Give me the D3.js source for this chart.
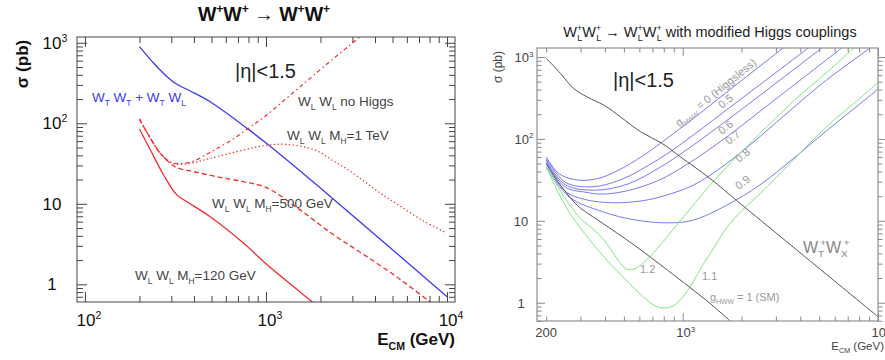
<!DOCTYPE html>
<html><head><meta charset="utf-8">
<script src="https://cdn.jsdelivr.net/npm/d3@7"></script>
<style>body{margin:0;background:#fff;} svg{display:block;font-family:"Liberation Sans",Arial,sans-serif;}</style>
</head><body><svg id="c" width="885" height="360"></svg>
<script>
// ---------- LEFT PANEL DATA (E in GeV, sigma in pb) ----------
const leftXTicks = [100, 1000, 10000];
const leftXTickExp = ["2", "3", "4"];
const leftYTicks = [1, 10, 100, 1000];
const leftYTickLabels = [["1", ""], ["10", ""], ["10", "2"], ["10", "3"]];

const wtE = [200, 240, 284, 322, 382, 492, 800, 990, 2300, 10000];
const wtS = [895, 556, 379, 305, 252, 185, 84, 58, 12, 0.70];

const mh120E = [200, 230, 272, 322, 366, 492, 750, 1000, 1790, 1900];
const mh120S = [85, 46.6, 22.8, 12.9, 10.6, 6.9, 3.25, 1.8, 0.61, 0.54];

const mh500E = [200, 230, 261, 296, 322, 398, 536, 750, 1000, 1500, 2300, 3500, 5400, 8000, 8500];
const mh500S = [113, 65, 42.4, 31.8, 28.1, 25.1, 21.7, 18.8, 16, 8.8, 4.3, 2.31, 1.19, 0.61, 0.55];

const noHiggsE = [200, 230, 261, 296, 331, 398, 492, 631, 802, 1000, 1507, 2307, 3548];
const noHiggsS = [113, 65, 42.4, 33.1, 31.6, 33.9, 43.7, 60, 87, 125, 272, 611, 1349];

const mh1TeVE = [200, 230, 261, 296, 331, 398, 492, 753, 1000, 1274, 1866, 2307, 2851, 3524, 4355, 5383, 7244, 9954];
const mh1TeVS = [113, 65, 42.4, 32.7, 30.9, 32.4, 36.7, 46.6, 53.1, 54.8, 46.6, 35.0, 26.3, 18.7, 13.2, 9.68, 6.31, 4.34];

// ---------- RIGHT PANEL DATA ----------
const rightXTicks = [200, 1000, 10000];
const rightXTickLabels = [["200", ""], ["10", "3"], ["10", "4"]];
const rightYTicks = [1, 10, 100, 1000];
const rightYTickLabels = [["1", ""], ["10", ""], ["10", "2"], ["10", "3"]];

const wtwxE = [200, 237, 277, 324, 395, 481, 610, 785, 977, 1380, 2000, 10000];
const wtwxS = [970, 628, 412, 325, 258, 185, 122, 88, 60, 32.9, 15.8, 0.675];

const smE = [200, 237, 288, 318, 380, 564, 834, 1380, 1820];
const smS = [50, 27.2, 15.5, 12.9, 9.7, 5.06, 2.51, 0.98, 0.55];

const g00E = [200, 234, 295, 372, 462, 631, 762, 1038, 1380, 1995, 3273, 3631];
const g00S = [60.3, 37.2, 31.3, 33.1, 40.7, 63.1, 87.1, 151, 257, 513, 1288, 1549];

const g05E = [200, 251, 339, 479, 762, 1038, 1585, 2512, 4395, 5012];
const g05S = [57.5, 29.5, 26.0, 31.6, 57.5, 95.5, 204, 468, 1288, 1622];

const g06E = [200, 251, 360, 525, 762, 1038, 1585, 2818, 5152, 5754];
const g06S = [55, 27.5, 23.7, 28.2, 44.7, 72.4, 151, 427, 1288, 1585];

const g07E = [200, 251, 316, 389, 525, 762, 1038, 1585, 3162, 6516, 7080];
const g07S = [52.5, 25.7, 22.4, 21.2, 23.4, 31.6, 47.9, 95.5, 339, 1288, 1514];

const g08E = [200, 251, 316, 437, 603, 762, 1132, 1679, 2489, 3681, 5458, 9099, 10000];
const g08S = [50.1, 22.9, 18.2, 16.6, 17.4, 19.5, 27.2, 50.1, 107, 240, 525, 1288, 1549];

const g09E = [200, 262, 389, 577, 854, 1132, 1679, 2489, 3681, 5458, 9462, 10000];
const g09S = [45.7, 19.6, 12.9, 10.2, 9.44, 10.2, 15.5, 27.5, 57.5, 126, 363, 407];

const g12E = [200, 229, 263, 302, 347, 392, 437, 479, 516, 562, 631, 741, 933, 1148, 1380, 1782, 2489, 3681, 5458, 7464, 8318];
const g12S = [45.7, 26.3, 15.8, 10.5, 7.94, 6.03, 4.17, 3.02, 2.57, 2.57, 3.09, 4.57, 8.91, 16.2, 27.2, 52.5, 117, 288, 646, 1259, 1549];

const g11E = [200, 229, 263, 302, 333, 398, 501, 631, 724, 802, 891, 1000, 1122, 1259, 1445, 1660, 2037, 2489, 3681, 5458, 7943, 10000];
const g11S = [45.7, 22.9, 12.6, 7.94, 5.89, 3.55, 2.0, 1.17, 0.912, 0.861, 0.912, 1.17, 1.74, 2.82, 4.68, 7.94, 13.8, 21.4, 55, 141, 302, 490];

// ---------- HELPERS ----------
const svg = d3.select("#c");
const zip = (E, S) => E.map((e, i) => [e, S[i]]);

function rich(g, x, y, parts, o = {}) {
  const size = o.size || 14;
  const t = g.append("text").attr("x", x).attr("y", y)
    .attr("font-size", size).attr("fill", o.fill || "#333")
    .attr("text-anchor", o.anchor || "start")
    .attr("font-weight", o.weight || "normal");
  if (o.rotate) t.attr("transform", `rotate(${o.rotate},${x},${y})`);
  let cur = 0;
  parts.forEach(p => {
    const [s, type, dx] = p;
    const sz = type === "n" ? size : size * 0.62;
    const off = type === "sup" ? -size * 0.42 : type === "sub" ? size * 0.28 : 0;
    const ts = t.append("tspan").attr("font-size", sz).attr("dy", off - cur).text(s);
    if (dx) ts.attr("dx", dx);
    cur = off;
  });
  return t;
}

function ticks(g, xs, ys, majX, minX, majY, minY, majLen, minLen, col, rightOut) {
  const [x0, x1] = xs.range(), [y0, y1] = ys.range();
  const mk = (axisFn, scale, vals, len, tr) => {
    g.append("g").attr("transform", tr)
      .call(axisFn(scale).tickValues(vals).tickSizeInner(len).tickSizeOuter(0).tickFormat(() => ""))
      .call(a => { a.select(".domain").remove(); a.selectAll("line").attr("stroke", col); });
  };
  mk(d3.axisBottom, xs, majX, -majLen, `translate(0,${y0})`);
  mk(d3.axisBottom, xs, minX, -minLen, `translate(0,${y0})`);
  mk(d3.axisTop, xs, majX, -majLen, `translate(0,${y1})`);
  mk(d3.axisTop, xs, minX, -minLen, `translate(0,${y1})`);
  mk(d3.axisLeft, ys, majY, -majLen, `translate(${x0},0)`);
  mk(d3.axisLeft, ys, minY, -minLen, `translate(${x0},0)`);
  const s = rightOut ? 1 : -1;
  mk(d3.axisRight, ys, majY, s * majLen, `translate(${x1},0)`);
  mk(d3.axisRight, ys, minY, s * minLen, `translate(${x1},0)`);
}

const minorsBetween = (lo, hi) => {
  const out = [];
  for (let d = 0.1; d <= 10000; d *= 10)
    for (let m = 2; m <= 9; m++) { const v = +(m * d).toPrecision(3); if (v > lo && v < hi) out.push(v); }
  return out;
};

// ---------- LEFT PANEL ----------
{
  const g = svg.append("g");
  const xs = d3.scaleLog().domain([90.4, 11066]).range([77, 455]);
  const ys = d3.scaleLog().domain([0.603, 1180]).range([302, 37]);
  g.append("clipPath").attr("id", "clipL").append("rect").attr("x", 77).attr("y", 37).attr("width", 378).attr("height", 265);
  const ln = d3.line().x(d => xs(d[0])).y(d => ys(d[1])).curve(d3.curveCatmullRom.alpha(0.5));
  const cg = g.append("g").attr("clip-path", "url(#clipL)");
  const red = "#f42c2c", blue = "#3a3af2";
  cg.append("path").attr("d", ln(zip(wtE, wtS))).attr("fill", "none").attr("stroke", blue).attr("stroke-width", 1.3);
  cg.append("path").attr("d", ln(zip(mh120E, mh120S))).attr("fill", "none").attr("stroke", red).attr("stroke-width", 1.3);
  cg.append("path").attr("d", ln(zip(mh500E, mh500S))).attr("fill", "none").attr("stroke", red).attr("stroke-width", 1.3).attr("stroke-dasharray", "5,3");
  cg.append("path").attr("d", ln(zip(noHiggsE, noHiggsS))).attr("fill", "none").attr("stroke", red).attr("stroke-width", 1.2).attr("stroke-dasharray", "4,3,1.5,3");
  cg.append("path").attr("d", ln(zip(mh1TeVE, mh1TeVS))).attr("fill", "none").attr("stroke", red).attr("stroke-width", 1.2).attr("stroke-dasharray", "1.4,2.4");

  g.append("rect").attr("x", 77).attr("y", 37).attr("width", 378).attr("height", 265).attr("fill", "none").attr("stroke", "#444").attr("stroke-width", 1);
  ticks(g, xs, ys, leftXTicks, minorsBetween(90.4, 11066), leftYTicks, minorsBetween(0.603, 1180), 10, 6, "#444", false);

  leftYTicks.forEach((v, i) => {
    const [b, e] = leftYTickLabels[i];
    const parts = [[b, "n"]]; if (e) parts.push([e, "sup"]);
    rich(g, e ? 55 : 52, ys(v) + 6, parts, { size: 17, fill: "#111", anchor: "middle" });
  });
  leftXTicks.forEach((v, i) => {
    rich(g, xs(v) + 4, 326, [["10", "n"], [leftXTickExp[i], "sup"]], { size: 17, fill: "#111", anchor: "middle" });
  });
  rich(g, 455, 345, [["E", "n"], ["CM", "sub"], [" (GeV)", "n"]], { size: 17, fill: "#111", anchor: "end", weight: "bold" });
  rich(g, 28, 64, [["σ (pb)", "n"]], { size: 17, fill: "#111", anchor: "middle", weight: "bold", rotate: -90 });
  rich(g, 264, 21, [["W", "n"], ["+", "sup"], ["W", "n"], ["+", "sup"], ["  →  ", "n"], ["W", "n"], ["+", "sup"], ["W", "n"], ["+", "sup"]], { size: 19.5, fill: "#111", anchor: "middle", weight: "bold" });
  rich(g, 235, 78, [["|η|<1.5", "n"]], { size: 20, fill: "#222" });
  rich(g, 92, 102, [["W", "n"], ["T", "sub"], [" W", "n"], ["T", "sub"], [" + W", "n"], ["T", "sub"], [" W", "n"], ["L", "sub"]], { size: 13.5, fill: blue });
  const wl = [["W", "n"], ["L", "sub"], [" W", "n"], ["L", "sub"]];
  rich(g, 298, 106, wl.concat([[" no Higgs", "n"]]), { size: 13.5, fill: "#444" });
  rich(g, 287, 140, wl.concat([[" M", "n"], ["H", "sub"], ["=1 TeV", "n"]]), { size: 13.5, fill: "#444" });
  rich(g, 212, 208, wl.concat([[" M", "n"], ["H", "sub"], ["=500 GeV", "n"]]), { size: 13.5, fill: "#444" });
  rich(g, 135, 280, wl.concat([[" M", "n"], ["H", "sub"], ["=120 GeV", "n"]]), { size: 13.5, fill: "#444" });
}

// ---------- RIGHT PANEL ----------
{
  const g = svg.append("g");
  const xs = d3.scaleLog().domain([179.5, 10000]).range([537, 878]);
  const ys = d3.scaleLog().domain([0.598, 1288]).range([321, 48]);
  g.append("clipPath").attr("id", "clipR").append("rect").attr("x", 537).attr("y", 48).attr("width", 341).attr("height", 273);
  const ln = d3.line().x(d => xs(d[0])).y(d => ys(d[1])).curve(d3.curveCatmullRom.alpha(0.5));
  const cg = g.append("g").attr("clip-path", "url(#clipR)");
  const bl = "#7878f6", gr = "#7ee67e", bk = "#555";
  [[g00E, g00S], [g05E, g05S], [g06E, g06S], [g07E, g07S], [g08E, g08S], [g09E, g09S]].forEach(([E, S]) =>
    cg.append("path").attr("d", ln(zip(E, S))).attr("fill", "none").attr("stroke", bl).attr("stroke-width", 1));
  [[g12E, g12S], [g11E, g11S]].forEach(([E, S]) =>
    cg.append("path").attr("d", ln(zip(E, S))).attr("fill", "none").attr("stroke", gr).attr("stroke-width", 1));
  cg.append("path").attr("d", ln(zip(smE, smS))).attr("fill", "none").attr("stroke", bk).attr("stroke-width", 1);
  cg.append("path").attr("d", ln(zip(wtwxE, wtwxS))).attr("fill", "none").attr("stroke", bk).attr("stroke-width", 1);

  g.append("rect").attr("x", 537).attr("y", 48).attr("width", 341).attr("height", 273).attr("fill", "none").attr("stroke", "#999").attr("stroke-width", 1.3);
  ticks(g, xs, ys, [1000, 10000], minorsBetween(179.5, 10000), rightYTicks, minorsBetween(0.598, 1288), 8, 4.5, "#888", true);

  rightYTicks.forEach((v, i) => {
    const [b, e] = rightYTickLabels[i];
    const parts = [[b, "n"]]; if (e) parts.push([e, "sup"]);
    rich(g, e ? 524 : 521, ys(v) + 5, parts, { size: 13, fill: "#444", anchor: "middle" });
  });
  rightXTicks.forEach((v, i) => {
    const [b, e] = rightXTickLabels[i];
    const parts = [[b, "n"]]; if (e) parts.push([e, "sup"]);
    rich(g, xs(v) + (e ? 3 : 0), 337, parts, { size: 13, fill: "#444", anchor: "middle" });
  });
  rich(g, 884, 350, [["E", "n"], ["CM", "sub"], [" (GeV)", "n"]], { size: 11.5, fill: "#444", anchor: "end" });
  rich(g, 502, 67, [["σ (pb)", "n"]], { size: 12, fill: "#444", anchor: "middle", rotate: -90 });
  const wlp = [["W", "n"], ["+", "sup"], ["L", "sub", -5]];
  rich(g, 710, 37, wlp.concat(wlp).concat([["  →  ", "n"]]).concat(wlp).concat(wlp).concat([[" with modified Higgs couplings", "n"]]),
    { size: 14.5, fill: "#222", anchor: "middle" });
  rich(g, 613, 87, [["|η|<1.5", "n"]], { size: 20, fill: "#222" });

  const lc = "#999";
  rich(g, 679, 127, [["g", "n"], ["HWW", "sub"], [" = 0 (Higgsless)", "n"]], { size: 11, fill: lc, rotate: -39 });
  rich(g, 722, 109, [["0.5", "n"]], { size: 11, fill: lc, rotate: -39 });
  rich(g, 722, 135, [["0.6", "n"]], { size: 11, fill: lc, rotate: -39 });
  rich(g, 729, 145, [["0.7", "n"]], { size: 11, fill: lc, rotate: -39 });
  rich(g, 739, 163, [["0.8", "n"]], { size: 11, fill: lc, rotate: -39 });
  rich(g, 739, 190, [["0.9", "n"]], { size: 11, fill: lc, rotate: -39 });
  rich(g, 640, 273, [["1.2", "n"]], { size: 11, fill: lc });
  rich(g, 702, 280, [["1.1", "n"]], { size: 11, fill: lc });
  rich(g, 710, 301, [["g", "n"], ["HWW", "sub"], [" = 1 (SM)", "n"]], { size: 11, fill: lc });
  rich(g, 803, 253, [["W", "n"], ["T", "sub"], ["+", "sup", -4], ["W", "n"], ["X", "sub"], ["+", "sup", -4]], { size: 16, fill: "#888" });
}
</script></body></html>
